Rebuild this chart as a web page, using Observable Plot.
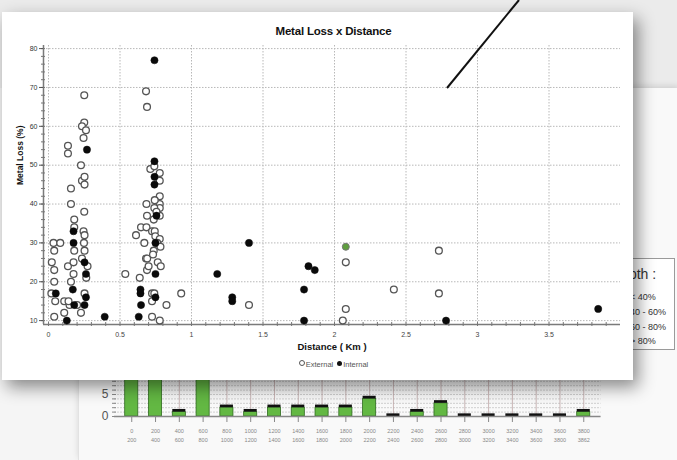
<!DOCTYPE html>
<html>
<head>
<meta charset="utf-8">
<script src="https://cdn.jsdelivr.net/npm/d3@7"></script>
<script src="https://cdn.jsdelivr.net/npm/@observablehq/plot@0.6"></script>
<style>
  html, body { margin: 0; padding: 0; }
  body { width: 677px; height: 460px; overflow: hidden; position: relative; background: #ebebeb; font-family: "Liberation Sans", Arial, sans-serif; }
  #panel { position: absolute; left: 78px; top: 88px; width: 600px; height: 372px; background: #f9f9f9; box-shadow: 0 -2px 6px rgba(0,0,0,0.12); border-left: 1px solid #e2e2e2; }
  #leftlow { position: absolute; left: 0; top: 88px; width: 78px; height: 372px; background: #f5f5f5; }
  #bars { position: absolute; left: 70px; top: 330px; }
  #depth { position: absolute; left: 590px; top: 258px; width: 85px; height: 92px; background: #fff; border: 1px solid #9a9a9a; box-sizing: border-box; color: #333; }
  #depth .h { position: absolute; left: 20px; top: 7px; font-size: 14px; }
  #depth .r { position: absolute; left: 39px; font-size: 9px; }
  #card { position: absolute; left: 2px; top: 12px; width: 631px; height: 368px; background: #fff; box-shadow: 5px 7px 16px rgba(0,0,0,0.45); }
  #title { position: absolute; top: 13px; left: 43px; width: 577px; text-align: center; font-weight: bold; font-size: 11.5px; color: #111; letter-spacing: -0.2px; }
  #chart { position: absolute; left: 0; top: 26px; }
  #legend { position: absolute; top: 348px; left: 43px; width: 577px; text-align: center; font-size: 7.5px; color: #555; }
  #legend span.o { display: inline-block; width: 4px; height: 4px; border: 1px solid #555; border-radius: 50%; margin-right: 1px; vertical-align: 1px; }
  #legend span.f { display: inline-block; width: 5px; height: 5px; background: #111; border-radius: 50%; margin: 0 1px 0 4px; vertical-align: 1px; }
  #pointer { position: absolute; left: 0; top: 0; pointer-events: none; }
</style>
</head>
<body>
<div id="leftlow"></div>
<div id="panel"></div>
<div id="bars"></div>
<div id="depth">
  <div class="h">Depth :</div>
  <div class="r" style="top:33px">&lt; 40%</div>
  <div class="r" style="top:48px">40 - 60%</div>
  <div class="r" style="top:63px">60 - 80%</div>
  <div class="r" style="top:77px">&gt; 80%</div>
</div>
<div id="card">
  <div id="title">Metal Loss x Distance</div>
  <div id="chart"></div>
  <div id="legend"><span class="o"></span>External<span class="f"></span>Internal</div>
</div>
<svg id="pointer" width="677" height="460"><line x1="519" y1="0" x2="447" y2="88" stroke="#111" stroke-width="2"/></svg>
<script>
// ---- Scatter data: [distance km, metal loss %] ----
const externalPts = [
  [0.02,17],[0.035,30],[0.04,28],[0.023,25],[0.04,23],[0.04,20],[0.047,15],[0.04,11],[0.082,30],
  [0.11,15],[0.11,12],[0.136,55],[0.136,53],[0.157,44],[0.157,40],[0.136,24],[0.157,20],[0.147,14],[0.14,15],
  [0.18,36],[0.18,34],[0.18,28],[0.175,25],[0.175,22],[0.2,14],[0.227,12],[0.227,50],[0.234,46],[0.252,47],[0.252,45],
  [0.25,68],[0.25,61],[0.234,60],[0.262,59],[0.245,57],[0.25,38],[0.245,33],[0.252,32],[0.248,30],[0.252,28],
  [0.234,26],[0.273,24],[0.264,21],[0.252,17],
  [0.537,22],[0.612,32],[0.647,34],[0.685,34],[0.685,40],[0.67,30],[0.689,37],[0.682,26],[0.69,26],[0.689,23],
  [0.7,24],[0.638,21],[0.682,69],[0.689,65],[0.712,49],[0.74,49.7],[0.76,47],[0.778,48],[0.778,46],[0.778,42],
  [0.778,40],[0.778,39],[0.778,37],[0.736,36],[0.74,39],[0.743,41],[0.755,38],[0.724,33],[0.743,33],[0.747,31.7],
  [0.778,31],[0.76,30],[0.783,29],[0.736,28],[0.731,27],[0.764,25],[0.785,24],[0.724,17],[0.74,17],[0.724,15],
  [0.825,14],[0.724,11],[0.778,10],[0.928,17],[1.402,14],
  [2.079,25],[2.73,28],[2.415,18],[2.73,17],[2.079,13],[2.058,10]
];
const internalPts = [
  [0.051,17],[0.128,10],[0.175,33],[0.175,30],[0.17,18],[0.18,14],[0.252,25],[0.262,22],[0.262,16],[0.252,14],
  [0.269,54],[0.393,11],
  [0.741,77],[0.741,51],[0.741,47],[0.741,45],[0.755,37],[0.748,30],[0.748,22],[0.748,16],[0.643,18],[0.643,17],
  [0.647,14],[0.631,11],
  [1.18,22],[1.285,16],[1.285,15],[1.402,30],[1.787,18],[1.818,24],[1.862,23],[1.787,10],[2.78,10],[3.844,13]
];
const highlightPts = [[2.079,29]];
const xMajor = [0,0.5,1,1.5,2,2.5,3,3.5];
const yMajor = [10,20,30,40,50,60,70,80];
const xMinor = d3.range(0, 40).map(i => i / 10);
const yMinor = d3.range(10, 82, 2);

// ---- Background histogram data ----
const binStart = [0,200,400,600,800,1000,1200,1400,1600,1800,2000,2200,2400,2600,2800,3000,3200,3400,3600,3800];
const binEnd   = [200,400,600,800,1000,1200,1400,1600,1800,2000,2200,2400,2600,2800,3000,3200,3400,3600,3800,3862];
const binCount = [14,13,1,12,2,1,2,2,2,2,4,0,1,3,0,0,0,0,0,1];
const barTicks = [0,5,10];

const font = "Liberation Sans, Arial, sans-serif";
const toObj = a => a.map(([x, y]) => ({x, y}));

const scatter = Plot.plot({
  width: 631, height: 322,
  marginLeft: 41, marginRight: 13, marginTop: 7, marginBottom: 36,
  style: {fontFamily: font, fontSize: "7px", color: "#333", background: "transparent", overflow: "visible"},
  x: {domain: [-0.035, 4.0], label: null},
  y: {domain: [9, 80.8], label: null},
  marks: [
    Plot.gridX({ticks: xMajor, stroke: "#b8b8b8", strokeOpacity: 1, strokeDasharray: "1.5,1.5"}),
    Plot.gridY({ticks: yMajor, stroke: "#b8b8b8", strokeOpacity: 1, strokeDasharray: "1.5,1.5"}),
    Plot.ruleY([9], {stroke: "#7a7a7a", strokeWidth: 1.5}),
    Plot.ruleX([-0.035], {stroke: "#7a7a7a", strokeWidth: 1.5}),
    Plot.axisX({ticks: xMinor, tickSize: 4, dy: -2, text: null, stroke: "#777", label: null}),
    Plot.axisX({ticks: xMajor, tickSize: 0, tickPadding: 8, tickFormat: d => String(d), fill: "#444", label: null}),
    Plot.axisY({ticks: yMinor, tickSize: 4, dx: 2, text: null, stroke: "#777", label: null}),
    Plot.axisY({ticks: yMajor, tickSize: 4, tickPadding: 2, tickFormat: d => String(d), stroke: "#555", fill: "#333", label: null}),
    Plot.text(["Distance ( Km )"], {frameAnchor: "bottom", dy: 25, fontWeight: "bold", fontSize: 9.5, fill: "#111"}),
    Plot.text(["Metal Loss (%)"], {frameAnchor: "left", dx: -23, rotate: -90, fontWeight: "bold", fontSize: 8.5, fill: "#111"}),
    Plot.dot(toObj(externalPts), {x: "x", y: "y", r: 3.4, fill: "white", stroke: "#555", strokeWidth: 1.3}),
    Plot.dot(toObj(internalPts), {x: "x", y: "y", r: 3.6, fill: "#0a0a0a", stroke: "#0a0a0a", strokeWidth: 0.5}),
    Plot.dot(toObj(highlightPts), {x: "x", y: "y", r: 3.5, fill: "#5e9e3e", stroke: "#777", strokeWidth: 1})
  ]
});
document.getElementById("chart").appendChild(scatter);

const bins = binStart.map((s, i) => ({cat: s + "\n" + binEnd[i], v: binCount[i]}));
const cats = bins.map(d => d.cat);
const bars = Plot.plot({
  width: 540, height: 128,
  marginLeft: 44, marginRight: 9.5, marginTop: 20, marginBottom: 42,
  style: {fontFamily: font, fontSize: "6px", color: "#666", background: "transparent", overflow: "visible"},
  x: {domain: cats, padding: 0.45, round: false, label: null},
  y: {domain: [0, 15], label: null},
  marks: [
    Plot.gridY({ticks: d3.range(0, 16, 1), stroke: "#cfcfcf", strokeOpacity: 1, strokeDasharray: "2,1"}),
    Plot.ruleX(cats, {x: d => d, y1: 0, y2: 15, stroke: "#bfa7a7", strokeWidth: 0.8}),
    Plot.barY(bins, {x: "cat", y: "v", fill: "#63b843", stroke: "#2e6a1e", strokeWidth: 0.8}),
    Plot.rectY(bins, {x: "cat", y1: d => d.v, y2: d => d.v + 0.6, fill: "#111"}),
    Plot.ruleY([0], {stroke: "#888", strokeWidth: 1.5}),
    Plot.axisX({tickSize: 6, tickPadding: 5, stroke: "#888", fill: "#888", fontSize: 5.5, lineHeight: 1.5, label: null}),
    Plot.axisY({ticks: d3.range(0, 16, 1), tickSize: 4, dx: 2, text: null, stroke: "#888", label: null}),
    Plot.axisY({ticks: barTicks, tickSize: 0, tickPadding: 6, fontSize: 12, fill: "#555", label: null})
  ]
});
document.getElementById("bars").appendChild(bars);
</script>
</body>
</html>
